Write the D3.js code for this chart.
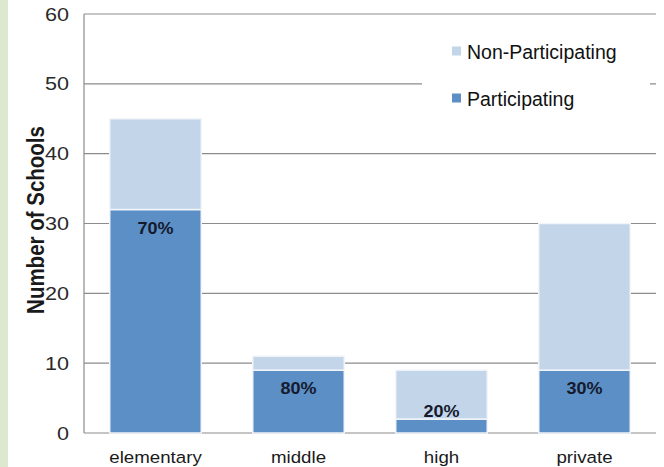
<!DOCTYPE html>
<html><head><meta charset="utf-8">
<script src="https://cdn.jsdelivr.net/npm/d3@7"></script>
<style>body{margin:0;background:#fff;}svg{display:block;font-family:"Liberation Sans",Arial,sans-serif;}</style>
</head><body><svg id="c" width="664" height="467"></svg>
<script>
const categories = ["elementary","middle","high","private"];
const participating = [32, 9, 2, 9];
const nonParticipating = [13, 2, 7, 21];
const pctLabels = ["70%","80%","20%","30%"];
const yTicks = [0,10,20,30,40,50,60];
const seriesNames = ["Non-Participating","Participating"];
const colors = {Participating:"#5b8fc6", "Non-Participating":"#c3d5e8"};

const svg = d3.select("#c");
svg.append("rect").attr("x",0).attr("y",0).attr("width",8).attr("height",467).attr("fill","#dde9cf");

const m = {l:84, r:656, t:14, b:433};
const x = d3.scaleBand().domain(categories).range([m.l, m.r]).paddingInner(0.36).paddingOuter(0.18);
const y = d3.scaleLinear().domain([0,60]).range([m.b, m.t]);

// gridlines
svg.append("g").selectAll("line").data(yTicks).join("line")
  .attr("x1", m.l).attr("x2", m.r).attr("y1", d=>y(d)).attr("y2", d=>y(d))
  .attr("stroke", "#8c8c8c").attr("stroke-width", 1.2);
// left axis line
svg.append("line").attr("x1",m.l).attr("x2",m.l).attr("y1",m.t).attr("y2",m.b).attr("stroke","#8c8c8c").attr("stroke-width",1.2);

// legend background
svg.append("rect").attr("x",422).attr("y",28).attr("width",228).attr("height",90).attr("fill","#fff");

const rows = categories.map((c,i)=>({c, p:participating[i], n:nonParticipating[i], lab:pctLabels[i]}));
const stack = d3.stack().keys(["p","n"])(rows);
const g = svg.append("g");
stack.forEach(layer=>{
  g.selectAll(null).data(layer).join("rect")
    .attr("x", d=>x(d.data.c)).attr("width", x.bandwidth())
    .attr("y", d=>y(d[1])).attr("height", d=>y(d[0])-y(d[1]))
    .attr("fill", layer.key==="p"?colors.Participating:colors["Non-Participating"])
    .attr("stroke","#f2f5f9").attr("stroke-width",1.5);
});

// percentage labels
g.selectAll(null).data(rows).join("text")
  .attr("transform", d=>`translate(${x(d.c)+x.bandwidth()/2},${d.p >= 5 ? y(d.p)+24 : y(d.p)-2}) scale(1.06,1)`)
  .attr("text-anchor","middle").attr("font-weight","bold").attr("font-size",17)
  .attr("fill","#151a2c").text(d=>d.lab);

// y tick labels
svg.append("g").selectAll("text").data(yTicks).join("text")
  .attr("transform", d=>`translate(69,${y(d)+6.5}) scale(1.2,1)`).attr("text-anchor","end")
  .attr("font-size",18).attr("fill","#2a2a2a").text(d=>d);
// x tick labels
svg.append("g").selectAll("text").data(categories).join("text")
  .attr("transform", d=>`translate(${x(d)+x.bandwidth()/2},463) scale(1.1,1)`).attr("text-anchor","middle")
  .attr("font-size",17).attr("fill","#1a1a1a").text(d=>d);
// y title
svg.append("text").attr("transform","translate(44,220) rotate(-90) scale(1,1.15)").attr("text-anchor","middle")
  .attr("font-size",20.5).attr("font-weight","bold").attr("fill","#1a1a1a").text("Number of Schools");

// legend
const leg = svg.append("g");
seriesNames.forEach((s,i)=>{
  const yy = 51 + i*47;
  leg.append("rect").attr("x",452).attr("y",yy-4.5).attr("width",9).attr("height",9).attr("fill",colors[s]);
  leg.append("text").attr("x",467).attr("y",yy+8).attr("font-size",19.5).attr("fill","#111").text(s);
});
</script></body></html>
